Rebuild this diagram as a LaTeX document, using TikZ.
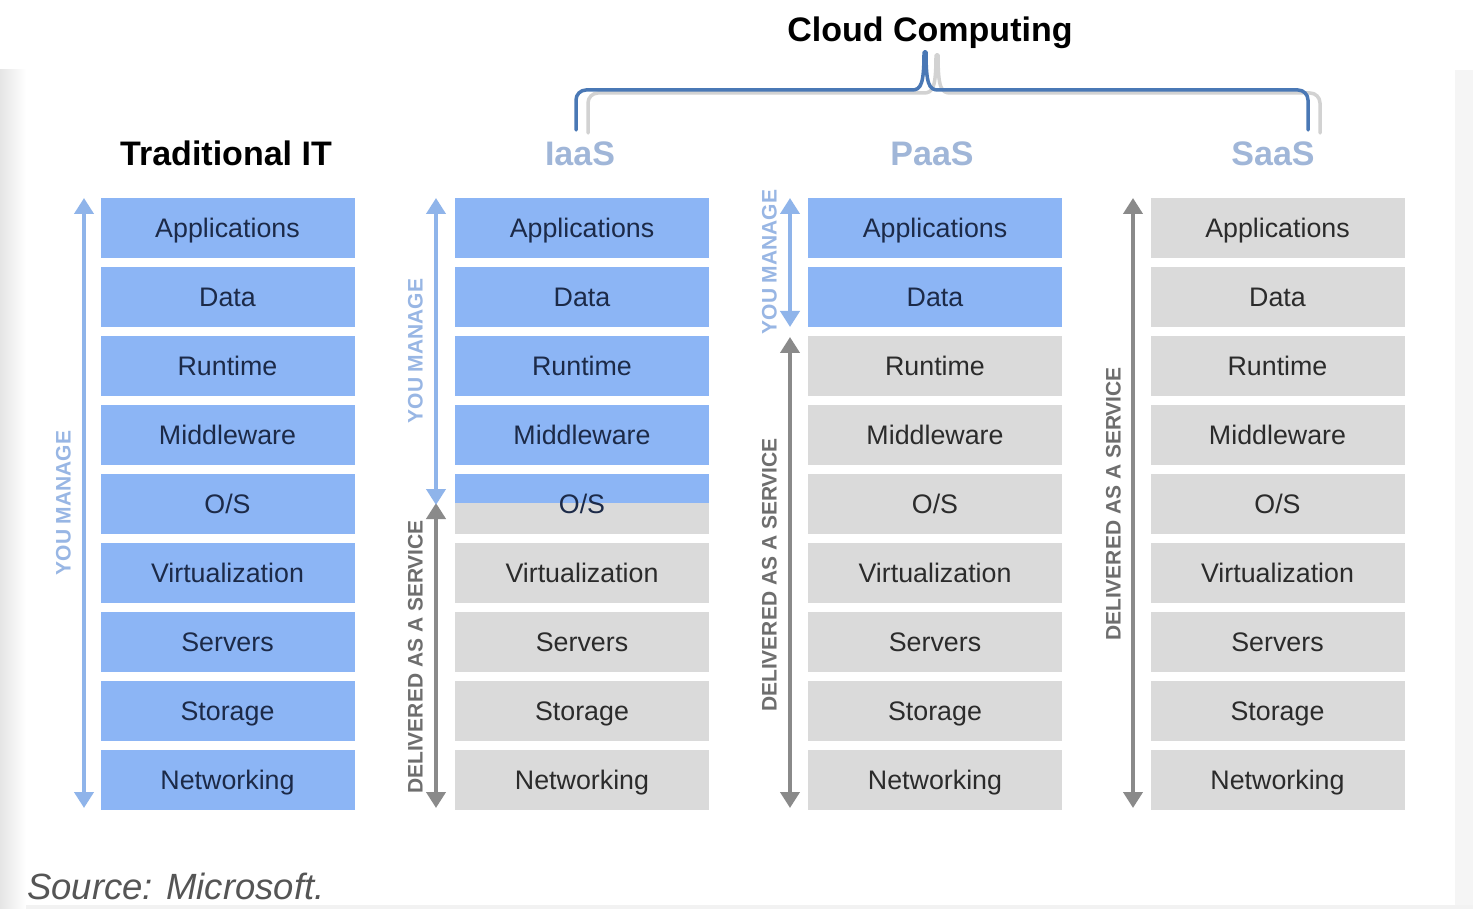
\documentclass[tikz,border=0pt]{standalone}
\usepackage{fontspec}
\setmainfont{Liberation Sans}
\usetikzlibrary{arrows.meta}
\definecolor{boxblue}{HTML}{8CB5F5}
\definecolor{boxgray}{HTML}{DADADA}
\definecolor{txtblue}{HTML}{1C2A48}
\definecolor{txtgray}{HTML}{2B2B2B}
\definecolor{arrblue}{HTML}{8FB4EA}
\definecolor{arrgray}{HTML}{8A8A8A}
\definecolor{lblblue}{HTML}{98B6E4}
\definecolor{lblgray}{HTML}{6E6E6E}
\definecolor{hdrblue}{HTML}{A0B6D8}
\definecolor{brblue}{HTML}{4A78B5}
\definecolor{brgray}{HTML}{D2D2D2}
\definecolor{srcgray}{HTML}{555555}
\begin{document}
\begin{tikzpicture}[x=1pt,y=-1pt,
  layer/.style={minimum width=254pt,minimum height=60pt,inner sep=0pt,
    text height=25pt,text depth=6pt,font=\fontsize{26.8}{30}\selectfont},
  bluebox/.style={layer,fill=boxblue,text=txtblue},
  graybox/.style={layer,fill=boxgray,text=txtgray},
  halfbox/.style={layer,fill=boxgray,text=txtblue,
    path picture={\fill[boxblue] (path picture bounding box.north west) rectangle ([yshift=-29pt]path picture bounding box.north east);}},
  arrb/.style={draw=arrblue,line width=4pt,{Triangle[width=19pt,length=16pt]}-{Triangle[width=19pt,length=16pt]}},
  arrg/.style={draw=arrgray,line width=4pt,{Triangle[width=19pt,length=16pt]}-{Triangle[width=19pt,length=16pt]}},
  sidelbl/.style={rotate=90,inner sep=0pt,font=\bfseries\fontsize{21}{24}\selectfont},
  hdr/.style={anchor=base,inner sep=0pt,font=\bfseries\fontsize{34}{40}\selectfont},
  bracket/.style={line width=3.5pt,line join=round,line cap=round}
]
\useasboundingbox (0,0) rectangle (1473,909);
% background
\fill[white] (0,0) rectangle (1473,909);
\shade[left color=black!10,right color=white] (0,70) rectangle (26,909);
\fill[black!5] (26,905) rectangle (1473,909);
\fill[black!4] (1455,70) rectangle (1473,905);

% titles
\node[hdr,text=black] (cloud) at (930,42) {Cloud Computing};
\node[hdr,text=black] (trad) at (226,166) {Traditional IT};
\node[hdr,text=hdrblue] (iaas) at (580,166) {IaaS};
\node[hdr,text=hdrblue] (paas) at (932,166) {PaaS};
\node[hdr,text=hdrblue] (saas) at (1273,166) {SaaS};

% bracket (shadow then blue)
\begin{scope}[xshift=12pt,yshift=-3pt]
\draw[bracket,brgray] (576,130) [rounded corners=10pt] -- (576,90) [sharp corners] -- (912,90)
  .. controls (921,90) and (924,84) .. (924,52) -- (926,52)
  .. controls (926,84) and (929,90) .. (938,90) [rounded corners=10pt] -- (1308,90) -- (1308,130);
\end{scope}
\draw[bracket,brblue] (576,130) [rounded corners=10pt] -- (576,90) [sharp corners] -- (912,90)
  .. controls (921,90) and (924,84) .. (924,52) -- (926,52)
  .. controls (926,84) and (929,90) .. (938,90) [rounded corners=10pt] -- (1308,90) -- (1308,130);

% Traditional IT column
\foreach \t [count=\i from 0] in {Applications,Data,Runtime,Middleware,O/S,Virtualization,Servers,Storage,Networking}
  \node[bluebox] (t\i) at (227.5,228+69*\i) {\t};

% IaaS column
\foreach \t [count=\i from 0] in {Applications,Data,Runtime,Middleware}
  \node[bluebox] (i\i) at (582,228+69*\i) {\t};
\node[halfbox] (i4) at (582,504) {O/S};
\foreach \t [count=\i from 5] in {Virtualization,Servers,Storage,Networking}
  \node[graybox] (i\i) at (582,228+69*\i) {\t};

% PaaS column
\foreach \t [count=\i from 0] in {Applications,Data}
  \node[bluebox] (p\i) at (935,228+69*\i) {\t};
\foreach \t [count=\i from 2] in {Runtime,Middleware,O/S,Virtualization,Servers,Storage,Networking}
  \node[graybox] (p\i) at (935,228+69*\i) {\t};

% SaaS column
\foreach \t [count=\i from 0] in {Applications,Data,Runtime,Middleware,O/S,Virtualization,Servers,Storage,Networking}
  \node[graybox] (s\i) at (1277.5,228+69*\i) {\t};

% arrow end points
\coordinate (ta) at (84,198);  \coordinate (tb) at (84,808);
\coordinate (ia) at (436,198); \coordinate (ib) at (436,505);
\coordinate (ic) at (436,503); \coordinate (id) at (436,808);
\coordinate (pa) at (790,198); \coordinate (pb) at (790,327);
\coordinate (pc) at (790,337); \coordinate (pd) at (790,808);
\coordinate (sa) at (1133,198); \coordinate (sb) at (1133,808);

\draw[arrb] (ta) -- (tb);
\draw[arrg] (ic) -- (id);
\draw[arrb] (ia) -- (ib);
\draw[arrb] (pa) -- (pb);
\draw[arrg] (pc) -- (pd);
\draw[arrg] (sa) -- (sb);

% side labels
\node[sidelbl,text=lblblue] (tl) at (63.5,503) {YOU MANAGE};
\node[sidelbl,text=lblblue] (il1) at (415.5,351) {YOU MANAGE};
\node[sidelbl,text=lblgray] (il2) at (415.5,657) {DELIVERED AS A SERVICE};
\node[sidelbl,text=lblblue] (pl1) at (769.5,262) {YOU MANAGE};
\node[sidelbl,text=lblgray] (pl2) at (769.5,575) {DELIVERED AS A SERVICE};
\node[sidelbl,text=lblgray] (sl) at (1113.5,504) {DELIVERED AS A SERVICE};

% source
\node[anchor=base west,inner sep=0pt,text=srcgray,font=\itshape\fontsize{36.5}{40}\selectfont] (src) at (27,899) {Source: Microsoft.};
\end{tikzpicture}
\end{document}
